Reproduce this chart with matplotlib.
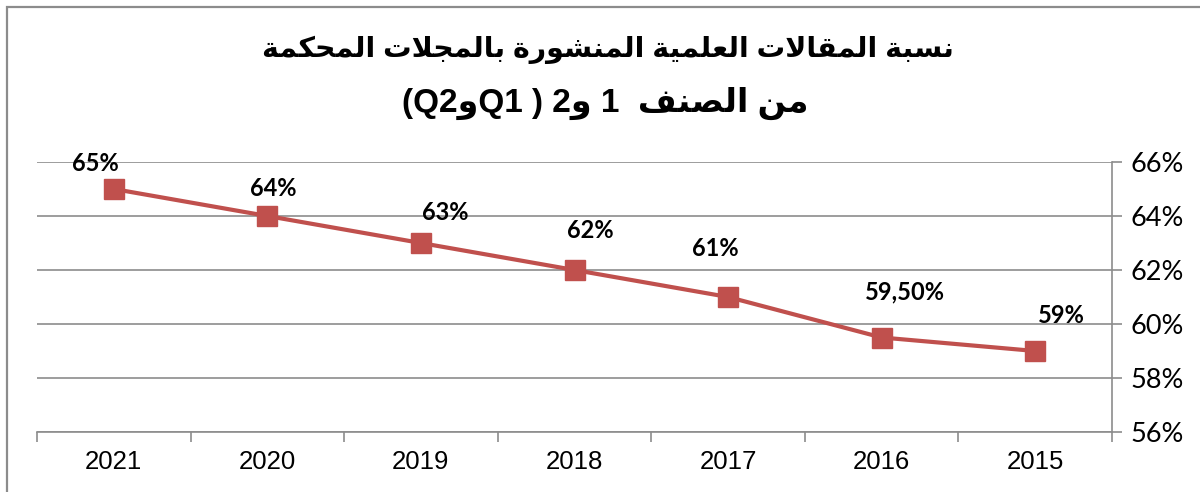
import matplotlib
matplotlib.use('Agg')
import matplotlib.pyplot as plt
from matplotlib.patches import Rectangle

# data, in the order shown on the chart (right axis, years going back)
years = ['2021', '2020', '2019', '2018', '2017', '2016', '2015']
share = [65, 64, 63, 62, 61, 59.5, 59]
labels = ['65%', '64%', '63%', '62%', '61%', '59,50%', '59%']
y_ticks = [56, 58, 60, 62, 64, 66]

# where each data label sits, in pixels from its marker (moved by hand in the original)
label_shift = [(-18, 26), (6, 28), (24, 31), (16, 40), (-13, 49), (23, 46), (26, 36)]

red = '#C0504D'
grey = '#8C8C8C'


''' simple arabic shaping (matplotlib does not join letters) '''

FORMS = {
    'ا': ('\uFE8D', '\uFE8E'),
    'ب': ('\uFE8F', '\uFE90', '\uFE91', '\uFE92'),
    'ة': ('\uFE93', '\uFE94'),
    'ت': ('\uFE95', '\uFE96', '\uFE97', '\uFE98'),
    'ج': ('\uFE9D', '\uFE9E', '\uFE9F', '\uFEA0'),
    'ح': ('\uFEA1', '\uFEA2', '\uFEA3', '\uFEA4'),
    'ر': ('\uFEAD', '\uFEAE'),
    'س': ('\uFEB1', '\uFEB2', '\uFEB3', '\uFEB4'),
    'ش': ('\uFEB5', '\uFEB6', '\uFEB7', '\uFEB8'),
    'ص': ('\uFEB9', '\uFEBA', '\uFEBB', '\uFEBC'),
    'ع': ('\uFEC9', '\uFECA', '\uFECB', '\uFECC'),
    'ف': ('\uFED1', '\uFED2', '\uFED3', '\uFED4'),
    'ق': ('\uFED5', '\uFED6', '\uFED7', '\uFED8'),
    'ك': ('\uFED9', '\uFEDA', '\uFEDB', '\uFEDC'),
    'ل': ('\uFEDD', '\uFEDE', '\uFEDF', '\uFEE0'),
    'م': ('\uFEE1', '\uFEE2', '\uFEE3', '\uFEE4'),
    'ن': ('\uFEE5', '\uFEE6', '\uFEE7', '\uFEE8'),
    'و': ('\uFEED', '\uFEEE'),
    'ي': ('\uFEF1', '\uFEF2', '\uFEF3', '\uFEF4'),
}


def rtl(text):
    out = []
    i = 0
    while i < len(text):
        c = text[i]
        prev = text[i - 1] if i > 0 else ''
        joins_prev = prev in FORMS and len(FORMS[prev]) == 4
        if c == 'ل' and i + 1 < len(text) and text[i + 1] == 'ا':
            out.append('\uFEFC' if joins_prev else '\uFEFB')
            i += 2
            continue
        if c not in FORMS:
            out.append(c)
            i += 1
            continue
        nxt = text[i + 1] if i + 1 < len(text) else ''
        joins_next = len(FORMS[c]) == 4 and nxt in FORMS
        f = FORMS[c]
        if joins_prev and joins_next:
            out.append(f[3])
        elif joins_prev:
            out.append(f[1])
        elif joins_next:
            out.append(f[2])
        else:
            out.append(f[0])
        i += 1
    return ''.join(reversed(out))


title1 = rtl('نسبة المقالات العلمية المنشورة بالمجلات المحكمة')
title2 = '(Q2' + rtl('و') + 'Q1 ) 2' + rtl('و') + ' 1  ' + rtl('من الصنف')
title_font = ['Liberation Sans', 'DejaVu Sans']


''' plotting '''

fig = plt.figure(figsize=(12, 4.92), dpi=100)

# chart border, cut by the picture edge on the right and bottom
fig.patches.append(Rectangle((7 / 1200, -0.1), 1.2, 1 - 7 / 492 + 0.1,
                             transform=fig.transFigure, fill=False,
                             edgecolor=grey, linewidth=1.6))

ax = fig.add_axes([37 / 1200, 1 - 432 / 492, (1112 - 37) / 1200, 270 / 492])

x = range(len(years))
ax.plot(x, share, color=red, linewidth=3, marker='s', markersize=14,
        markerfacecolor=red, markeredgecolor=red, zorder=3)

for i, (v, t) in enumerate(zip(share, labels)):
    dx, dy = label_shift[i]
    ax.annotate(t, (i, v), xytext=(dx, dy), textcoords='offset pixels',
                ha='center', va='center', fontsize=17, fontweight='bold',
                family='Lato', annotation_clip=False)

ax.set_xlim(-0.5, len(years) - 0.5)
ax.set_ylim(56, 66)
ax.set_yticks(y_ticks)
ax.set_yticklabels([f'{t}%' for t in y_ticks], family='Lato', fontsize=19.5)
ax.yaxis.tick_right()
ax.grid(axis='y', color=grey, linewidth=1.2)
ax.set_axisbelow(True)

ax.set_xticks([i + 0.5 for i in range(-1, len(years))], minor=False)
ax.set_xticklabels([])
ax.set_xticks(list(x), minor=True)
ax.set_xticklabels(years, minor=True, family='Liberation Sans', fontsize=18.5)
ax.tick_params(axis='x', which='major', length=7, color=grey, width=1.2, direction='out')
ax.tick_params(axis='x', which='minor', length=0, pad=13)
ax.tick_params(axis='y', length=7, color=grey, width=1.2, pad=6)

for side in ['top', 'left']:
    ax.spines[side].set_visible(False)
for side in ['bottom', 'right']:
    ax.spines[side].set_color(grey)
    ax.spines[side].set_linewidth(1.2)

fig.text(0.507, 1 - 50 / 492, title1, ha='center', va='center', fontsize=20.5,
         fontweight='bold', family=title_font)
fig.text(0.504, 1 - 103 / 492, title2, ha='center', va='center', fontsize=24,
         fontweight='bold', family=title_font)

fig.savefig('out.png', dpi=100)
